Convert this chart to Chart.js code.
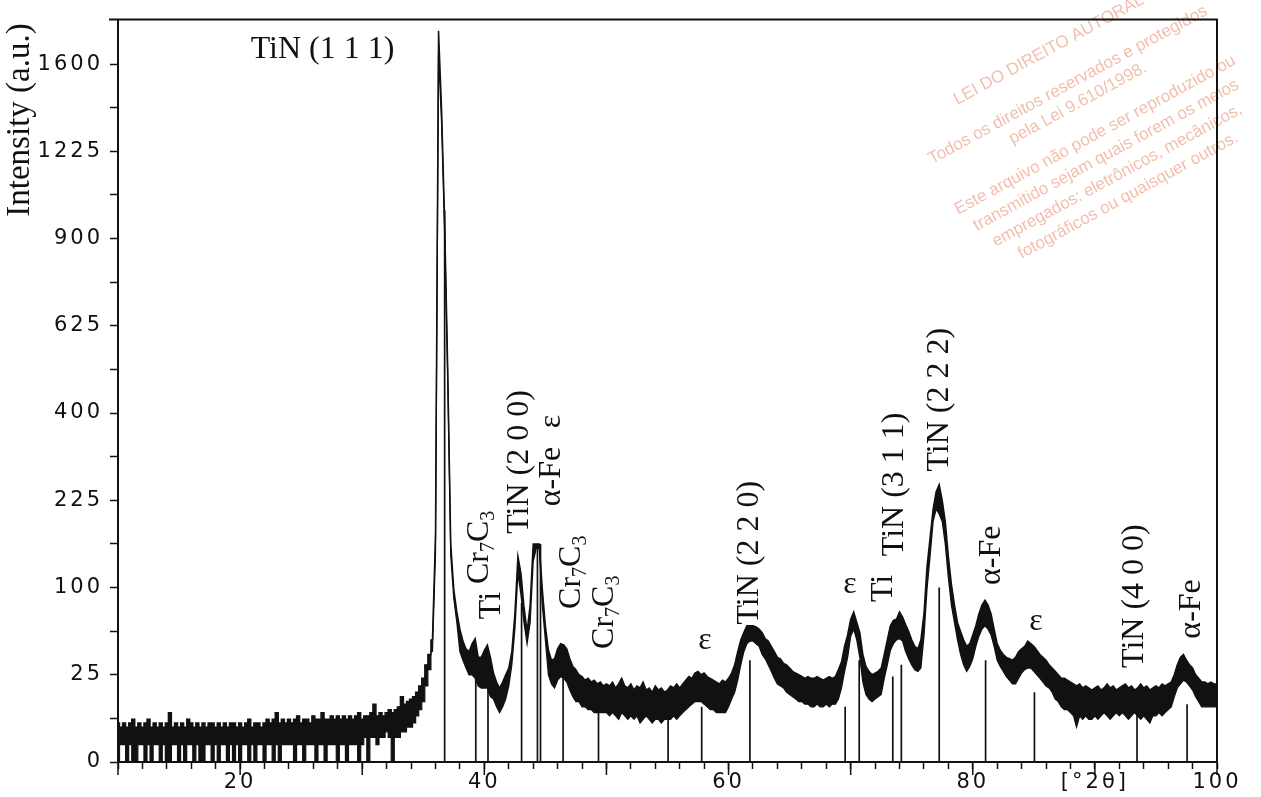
<!DOCTYPE html>
<html>
<head>
<meta charset="utf-8">
<title>XRD TiN</title>
<script src="https://cdn.jsdelivr.net/npm/chart.js@4.4.0/dist/chart.umd.min.js"></script>
<style>
  html, body { margin: 0; padding: 0; background: #fff; }
  #xrd { display: block; }
</style>
</head>
<body>
<canvas id="xrd" width="1261" height="797"></canvas>
<script>
// ---------- Scan data (2θ from 10° to 100°, 0.25° steps, counts) ----------
const scanStart = 10;
const scanStep = 0.25;

// top edge of the noisy trace
const upperEnvelope = [
  5, 4, 5, 4, 5, 6, 4, 5, 4, 5, 6, 4, 5, 4, 5, 4, 5, 8, 4, 5,            // 10
  4, 5, 4, 6, 5, 4, 5, 4, 5, 4, 5, 5, 4, 5, 4, 5, 4, 5, 5, 4,            // 15
  5, 4, 5, 6, 4, 5, 5, 4, 5, 6, 5, 6, 8, 5, 6, 5, 6, 5, 6, 7,            // 20
  5, 6, 6, 5, 7, 6, 6, 8, 6, 6, 7, 6, 7, 6, 7, 6, 7, 6, 7, 8,            // 25
  6, 7, 7, 8, 11, 7, 8, 7, 8, 9, 8, 9, 10, 14, 11, 12, 13, 14, 16, 19,   // 30
  23, 31, 38, 49, 169, 1756, 1399, 961, 511, 156, 98, 74, 58, 48, 42, 40, 46, 50, 36, 36, // 35
  41, 45, 36, 26, 21, 18, 21, 25, 29, 40, 72, 139, 117, 79, 56, 81, 156, 156, 156, 98,    // 40
  61, 41, 34, 35, 42, 46, 45, 42, 35, 30, 28, 25, 24, 22, 23, 21, 22, 20, 21, 19,         // 45
  20, 19, 21, 18, 20, 23, 19, 18, 20, 17, 19, 18, 21, 17, 18, 16, 19, 17, 18, 16,         // 50
  17, 19, 18, 20, 18, 20, 22, 24, 23, 26, 27, 25, 26, 24, 23, 22, 21, 20, 22, 21,         // 55
  23, 26, 31, 40, 49, 55, 61, 61, 61, 60, 58, 55, 50, 48, 44, 40, 36, 35, 32, 31,         // 60
  29, 27, 26, 25, 24, 23, 24, 23, 23, 24, 23, 22, 23, 24, 23, 24, 28, 33, 44, 53,         // 65
  67, 74, 64, 55, 38, 30, 27, 25, 26, 27, 29, 38, 49, 61, 66, 67, 74, 69, 62, 56,         // 70
  49, 44, 42, 49, 72, 125, 165, 210, 240, 253, 225, 190, 139, 104, 81, 64, 56, 49, 44, 46, // 75
  53, 61, 72, 81, 86, 81, 72, 58, 46, 41, 38, 36, 35, 34, 36, 40, 42, 44, 48, 46,         // 80
  44, 41, 38, 36, 34, 31, 29, 27, 25, 23, 23, 22, 21, 20, 19, 20, 18, 19, 18, 17,         // 85
  18, 19, 17, 18, 20, 18, 19, 17, 18, 19, 20, 18, 19, 17, 18, 20, 18, 19, 17, 18,         // 90
  19, 18, 20, 19, 20, 21, 25, 31, 36, 38, 34, 31, 29, 25, 23, 21, 21, 20, 21, 20,         // 95
  20                                                                                      // 100
];

// bottom edge of the noisy trace
const lowerEnvelope = [
  0, 1, 1, 0, 1, 0, 0, 1, 1, 0, 1, 0, 1, 1, 0, 1, 0, 0, 1, 1,
  0, 1, 0, 1, 1, 0, 1, 0, 0, 1, 1, 0, 1, 0, 1, 1, 0, 1, 0, 1,
  0, 1, 1, 0, 1, 0, 1, 1, 0, 1, 1, 0, 1, 0, 1, 1, 1, 1, 0, 1,
  1, 0, 1, 1, 1, 0, 1, 1, 0, 1, 1, 1, 0, 1, 1, 0, 1, 1, 1, 0,
  1, 2, 0, 2, 2, 1, 2, 2, 3, 2, 0, 2, 2, 3, 3, 4, 4, 5, 7, 9,
  12, 19, 28, 40, 144, 1650, 1340, 920, 480, 140, 88, 64, 40, 34, 29, 25, 25, 23, 19, 18,
  18, 18, 14, 13, 10, 8, 10, 13, 19, 31, 58, 117, 92, 64, 46, 64, 132, 150, 150, 81,
  49, 25, 20, 18, 22, 24, 23, 21, 17, 14, 12, 12, 10, 10, 9, 9, 8, 8, 8, 8,
  8, 7, 8, 7, 6, 8, 7, 6, 7, 6, 7, 5, 6, 7, 6, 5, 6, 6, 5, 6,
  6, 6, 7, 6, 7, 8, 9, 10, 11, 12, 12, 12, 11, 10, 9, 9, 8, 8, 8, 8,
  10, 13, 16, 22, 31, 40, 46, 48, 48, 46, 44, 38, 35, 31, 27, 23, 20, 19, 18, 16,
  15, 14, 13, 12, 12, 11, 11, 10, 10, 11, 10, 10, 11, 10, 11, 11, 13, 18, 27, 36,
  52, 58, 49, 36, 21, 15, 13, 12, 13, 14, 15, 23, 31, 41, 46, 49, 50, 48, 40, 35,
  31, 28, 27, 29, 52, 98, 139, 190, 210, 202, 190, 156, 112, 81, 64, 49, 38, 31, 27, 30,
  35, 44, 52, 58, 61, 58, 53, 44, 34, 30, 27, 24, 22, 20, 20, 23, 26, 28, 29, 29,
  27, 25, 23, 21, 19, 18, 16, 13, 12, 10, 9, 9, 8, 7, 4, 7, 6, 7, 6, 6,
  7, 6, 7, 8, 7, 6, 7, 8, 7, 8, 7, 6, 7, 8, 7, 6, 7, 6, 5, 7,
  7, 8, 7, 8, 9, 10, 14, 18, 20, 22, 21, 19, 17, 14, 12, 10, 10, 10, 10, 10,
  10
];

// below this angle the counts are low enough that the trace reads as bars
const barRegionEnd = 35.75;

// ---------- Reference reflections (stick lines) ----------
const stickTheta  = [36.75, 39.3, 40.3, 43.05, 44.35, 44.6, 46.45, 49.35, 55.05, 57.8,
                     61.75, 69.55, 70.7, 73.45, 74.15, 77.25, 81.05, 85.05, 93.45, 97.55];
const stickHeight = [1000, 42, 42, 83, 156, 156, 24, 9, 6, 10,
                     34, 10, 34, 24, 31, 100, 34, 16, 8, 11];

// ---------- Peak labels (anchor in 2θ / intensity) ----------
const labelText    = ['TiN (1 1 1)', 'Cr7C3', 'Ti', 'TiN (2 0 0)', 'α-Fe', 'ε', 'Cr7C3', 'Cr7C3', 'ε',
                      'TiN (2 2 0)', 'ε', 'Ti', 'TiN (3 1 1)', 'TiN (2 2 2)', 'α-Fe', 'ε', 'TiN (4 0 0)', 'α-Fe'];
const labelTheta   = [26.75, 40.3, 41.28, 43.58, 46.2, 46.2, 47.83, 50.54, 58.07,
                      62.41, 69.95, 73.39, 74.29, 77.97, 82.23, 85.18, 93.94, 98.61];
const labelLevel   = [1628, 104, 67, 171, 215, 366, 77, 42, 42,
                      62, 94, 84, 139, 277, 103, 57, 29, 50];
const labelUpright = [true, false, false, false, false, false, false, false, true,
                      false, true, false, false, false, false, true, false, false];

// ---------- Axis ticks ----------
const xTickValues = [20, 40, 60, 80, 90, 100];
const xTickText   = ['20', '40', '60', '80', '[°2θ]', '100'];
const yTickValues = [0, 25, 100, 225, 400, 625, 900, 1225, 1600];

const INK = '#111';
const SERIF = '"Liberation Serif", "Times New Roman", serif';
const SANS = '"DejaVu Sans", sans-serif';

// intensity axis is drawn on a square-root scale
const toPoints = (arr, from, to) => arr
  .map((v, i) => ({ x: scanStart + i * scanStep, y: Math.sqrt(v) }))
  .filter(p => p.x >= from && p.x <= to);

const stickPoints = [];
stickTheta.forEach((t, i) => {
  stickPoints.push({ x: t, y: 0 }, { x: t, y: Math.sqrt(stickHeight[i]) }, { x: t, y: null });
});

// ---------- Text helpers ----------
// digits right after a letter (Cr7C3) are set as subscripts
function splitFormula(text) {
  const parts = [];
  let buf = '';
  for (let i = 0; i < text.length; i++) {
    const ch = text[i];
    const prev = text[i - 1] || '';
    if (/\d/.test(ch) && /[A-Za-z]/.test(prev)) {
      if (buf) parts.push({ t: buf, sub: false });
      parts.push({ t: ch, sub: true });
      buf = '';
    } else {
      buf += ch;
    }
  }
  if (buf) parts.push({ t: buf, sub: false });
  return parts;
}

function drawPeakLabel(ctx, text, x, y, upright) {
  const size = 32;
  const parts = splitFormula(text);
  ctx.save();
  ctx.translate(x, y);
  if (!upright) ctx.rotate(-Math.PI / 2);
  ctx.fillStyle = INK;
  ctx.textBaseline = 'alphabetic';
  ctx.textAlign = 'left';
  let total = 0;
  parts.forEach(p => {
    ctx.font = (p.sub ? Math.round(size * 0.62) : size) + 'px ' + SERIF;
    p.w = ctx.measureText(p.t).width;
    total += p.w;
  });
  let cx = upright ? -total / 2 : 0;
  parts.forEach(p => {
    ctx.font = (p.sub ? Math.round(size * 0.62) : size) + 'px ' + SERIF;
    ctx.fillText(p.t, cx, p.sub ? size * 0.2 : 0);
    cx += p.w;
  });
  ctx.restore();
}

// ---------- Watermark (centred block, tilted) ----------
const watermarkLines = [
  'LEI DO DIREITO AUTORAL',
  'Todos os direitos reservados e protegidos',
  'pela Lei 9.610/1998.',
  'Este arquivo não pode ser reproduzido ou',
  'transmitido sejam quais forem os meios',
  'empregados: eletrônicos, mecânicos,',
  'fotográficos ou quaisquer outros.'
];
const watermarkRow = [549, 589, 610, 646, 669, 692, 715];

const xrdDecor = {
  id: 'xrdDecor',
  beforeDraw(chart) {
    const ctx = chart.ctx;
    ctx.save();
    ctx.letterSpacing = '0px';
    ctx.fillStyle = '#f2bfae';
    ctx.font = '17px "Liberation Sans", Arial, sans-serif';
    ctx.textAlign = 'center';
    ctx.textBaseline = 'alphabetic';
    ctx.rotate(-28.5 * Math.PI / 180);
    watermarkLines.forEach((line, i) => ctx.fillText(line, 898, watermarkRow[i]));
    ctx.restore();
    // wide plotter-style tick numbers
    ctx.letterSpacing = '3px';
  },
  afterDraw(chart) {
    const ctx = chart.ctx;
    const { left, right, top, bottom } = chart.chartArea;
    const xs = chart.scales.x, ys = chart.scales.y;
    ctx.save();
    ctx.letterSpacing = '0px';

    // frame
    ctx.strokeStyle = INK;
    ctx.lineWidth = 2;
    ctx.beginPath();
    ctx.moveTo(left - 9, top);
    ctx.lineTo(right, top);
    ctx.lineTo(right, bottom);
    ctx.stroke();

    // longer ticks every 10°
    ctx.lineWidth = 1.5;
    ctx.beginPath();
    for (let v = 10; v <= 100; v += 10) {
      const px = xs.getPixelForValue(v);
      ctx.moveTo(px, bottom);
      ctx.lineTo(px, bottom + 13);
    }
    ctx.stroke();

    // y axis title
    ctx.save();
    ctx.translate(29, 120);
    ctx.rotate(-Math.PI / 2);
    ctx.fillStyle = INK;
    ctx.font = '33px ' + SERIF;
    ctx.textAlign = 'center';
    ctx.textBaseline = 'alphabetic';
    ctx.fillText('Intensity (a.u.)', 0, 0);
    ctx.restore();

    // peak labels
    labelText.forEach((t, i) => {
      const px = xs.getPixelForValue(labelTheta[i]);
      const py = ys.getPixelForValue(Math.sqrt(labelLevel[i]));
      drawPeakLabel(ctx, t, px, py, labelUpright[i]);
    });
    ctx.restore();
  }
};

const traceStyle = { borderColor: INK, pointRadius: 0, tension: 0 };

new Chart(document.getElementById('xrd'), {
  type: 'line',
  data: {
    datasets: [
      // low-angle background: bar-like noise
      { ...traceStyle, label: 'scan max (low)', data: toPoints(upperEnvelope, 10, barRegionEnd),
        borderWidth: 1.4, backgroundColor: INK, stepped: 'middle', fill: '+1' },
      { ...traceStyle, label: 'scan min (low)', data: toPoints(lowerEnvelope, 10, barRegionEnd),
        borderWidth: 1.2, stepped: 'middle', fill: false },
      // peaks region
      { ...traceStyle, label: 'scan max', data: toPoints(upperEnvelope, barRegionEnd, 100),
        borderWidth: 1.5, backgroundColor: INK, fill: '+1' },
      { ...traceStyle, label: 'scan min', data: toPoints(lowerEnvelope, barRegionEnd, 100),
        borderWidth: 1.3, fill: false },
      { label: 'reflections', data: stickPoints, borderColor: INK, borderWidth: 1.7,
        pointRadius: 0, spanGaps: false, fill: false }
    ]
  },
  options: {
    responsive: false,
    animation: false,
    events: [],
    layout: { padding: { top: 8, right: 44, left: 0, bottom: 0 } },
    plugins: { legend: { display: false }, tooltip: { enabled: false } },
    scales: {
      x: {
        type: 'linear',
        min: 10,
        max: 100,
        afterBuildTicks: (s) => {
          s.ticks = [];
          for (let v = 10; v <= 100; v += 2) s.ticks.push({ value: v });
        },
        afterFit: (s) => { s.height = 35; },
        ticks: {
          autoSkip: false,
          maxRotation: 0,
          padding: 1,
          color: INK,
          font: { family: SANS, size: 21 },
          callback: (v) => {
            const i = xTickValues.indexOf(v);
            return i < 0 ? '' : xTickText[i];
          }
        },
        grid: { drawOnChartArea: false, drawTicks: true, tickLength: 7, tickColor: INK, tickWidth: 1.5 },
        border: { display: true, color: INK, width: 2 }
      },
      y: {
        type: 'linear',
        min: 0,
        max: 42.55,
        afterBuildTicks: (s) => {
          s.ticks = [];
          yTickValues.forEach((v, i) => {
            s.ticks.push({ value: Math.sqrt(v) });
            if (i < yTickValues.length - 1) s.ticks.push({ value: Math.sqrt(v) + 2.5 });
          });
        },
        afterFit: (s) => { s.width = 118; },
        ticks: {
          autoSkip: false,
          padding: 7,
          color: INK,
          font: { family: SANS, size: 21 },
          callback: (v) => {
            const i = yTickValues.findIndex(t => Math.abs(Math.sqrt(t) - v) < 1e-6);
            return i < 0 ? '' : String(yTickValues[i]);
          }
        },
        grid: { drawOnChartArea: false, drawTicks: true, tickLength: 8, tickColor: INK, tickWidth: 1.5 },
        border: { display: true, color: INK, width: 2 }
      }
    }
  },
  plugins: [xrdDecor]
});
</script>
</body>
</html>
